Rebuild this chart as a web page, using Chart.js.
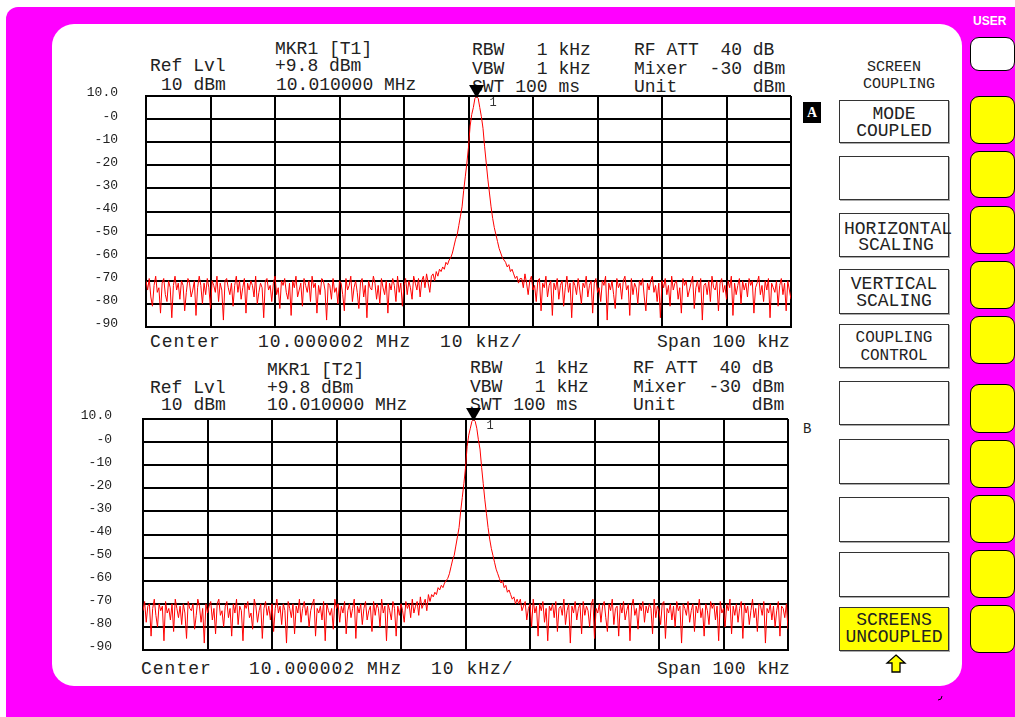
<!DOCTYPE html>
<html>
<head>
<meta charset="utf-8">
<script src="https://cdn.jsdelivr.net/npm/chart.js@4.4.0/dist/chart.umd.min.js"></script>
<style>
  html, body { margin: 0; padding: 0; width: 1015px; height: 717px; overflow: hidden; background: #fff; }
  .frame { position: absolute; left: 6px; top: 7px; right: -30px; bottom: -30px; background: #ff00ff; border-top-left-radius: 12px; }
  .panel { position: absolute; left: 52px; top: 24px; width: 910px; height: 662px; background: #fff; border-radius: 22px; }
  .t { position: absolute; white-space: pre; font: 18px/18px "Liberation Mono", monospace; color: #222; }
  .wide { letter-spacing: 1px; }
  .key { position: absolute; left: 970px; width: 45px; background: #ffff00; border: 1.5px solid #000; border-radius: 9px; box-sizing: border-box; }
  .soft { position: absolute; left: 839px; width: 110px; background: #fff; border: 1px solid #333; box-shadow: 1px 1px 0 #aaa; box-sizing: border-box; text-align: center; color: #222; font-family: "Liberation Mono", monospace; }
  .soft div { white-space: pre; }
  .scr { position: absolute; }
</style>
</head>
<body>
<div class="frame"></div>
<div class="panel"></div>

<!-- right hand hardkeys -->
<div style="position:absolute;left:973px;top:14px;font:bold 12px 'Liberation Sans',sans-serif;color:#fff;">USER</div>
<div class="key" style="top:37px;height:34px;background:#fff;"></div>
<div class="key" style="top:96px;height:48px;"></div>
<div class="key" style="top:151px;height:47px;"></div>
<div class="key" style="top:206px;height:48px;"></div>
<div class="key" style="top:261px;height:48px;"></div>
<div class="key" style="top:316px;height:48px;"></div>
<div class="key" style="top:384px;height:49px;"></div>
<div class="key" style="top:440px;height:48px;"></div>
<div class="key" style="top:495px;height:48px;"></div>
<div class="key" style="top:550px;height:48px;"></div>
<div class="key" style="top:605px;height:48px;"></div>

<!-- softkey menu -->
<div class="t" style="left:863px;top:59px;width:62px;font-size:15px;line-height:17px;text-align:center;">SCREEN
COUPLING</div>
<div class="soft" style="top:100px;height:43px;font-size:18px;line-height:17px;padding-top:5px;">MODE
COUPLED</div>
<div class="soft" style="top:156px;height:44px;"></div>
<div class="soft" style="top:213px;height:44px;font-size:18px;line-height:16px;padding-top:7px;padding-left:4px;">HORIZONTAL
SCALING</div>
<div class="soft" style="top:269px;height:45px;font-size:18px;line-height:17px;padding-top:6px;">VERTICAL
SCALING</div>
<div class="soft" style="top:324px;height:44px;font-size:16px;line-height:18px;padding-top:4px;">COUPLING
CONTROL</div>
<div class="soft" style="top:381px;height:44px;"></div>
<div class="soft" style="top:439px;height:45px;"></div>
<div class="soft" style="top:497px;height:45px;"></div>
<div class="soft" style="top:552px;height:45px;"></div>
<div class="soft" style="top:607px;height:44px;background:#ffff00;font-size:18px;line-height:17px;padding-top:4px;">SCREENS
UNCOUPLED</div>
<svg style="position:absolute;left:885px;top:654px;" width="22" height="20">
  <path d="M11 1 L20 9 L15 9 L15 18 L7 18 L7 9 L2 9 Z" fill="#ffff00" stroke="#000" stroke-width="1.3"/>
</svg>
<svg style="position:absolute;left:936px;top:694px;" width="8" height="8">
  <path d="M2 6 L5 5 L6 2" fill="none" stroke="#000" stroke-width="1"/>
</svg>

<!-- screen labels -->
<div style="position:absolute;left:803px;top:102px;width:18px;height:21px;background:#000;color:#fff;font:bold 14px/21px 'Liberation Serif',serif;text-align:center;">A</div>
<div class="t" style="left:803px;top:420px;font-size:14px;">B</div>

<!-- screen A header -->
<div class="t" style="left:275px;top:40px;">MKR1 [T1]</div>
<div class="t" style="left:150px;top:57px;">Ref Lvl</div>
<div class="t" style="left:275px;top:57px;">+9.8 dBm</div>
<div class="t" style="left:161px;top:76px;">10 dBm</div>
<div class="t" style="left:276px;top:76px;">10.010000 MHz</div>
<div class="t" style="left:472px;top:41px;line-height:18.5px;">RBW   1 kHz
VBW   1 kHz
SWT 100 ms</div>
<div class="t" style="left:634px;top:41px;line-height:18.5px;">RF ATT  40 dB
Mixer  -30 dBm
Unit       dBm</div>
<div class="t wide" style="left:150px;top:333px;">Center</div>
<div class="t wide" style="left:258px;top:333px;">10.000002 MHz</div>
<div class="t wide" style="left:440px;top:333px;">10 kHz/</div>
<div class="t" style="left:657px;top:333px;letter-spacing:0.3px;">Span 100 kHz</div>

<!-- screen B header -->
<div class="t" style="left:267px;top:361px;">MKR1 [T2]</div>
<div class="t" style="left:150px;top:379px;">Ref Lvl</div>
<div class="t" style="left:267px;top:379px;">+9.8 dBm</div>
<div class="t" style="left:161px;top:396px;">10 dBm</div>
<div class="t" style="left:267px;top:396px;">10.010000 MHz</div>
<div class="t" style="left:470px;top:359px;line-height:18.5px;">RBW   1 kHz
VBW   1 kHz
SWT 100 ms</div>
<div class="t" style="left:633px;top:359px;line-height:18.5px;">RF ATT  40 dB
Mixer  -30 dBm
Unit       dBm</div>
<div class="t wide" style="left:141px;top:660px;">Center</div>
<div class="t wide" style="left:249px;top:660px;">10.000002 MHz</div>
<div class="t wide" style="left:431px;top:660px;">10 kHz/</div>
<div class="t" style="left:657px;top:660px;letter-spacing:0.3px;">Span 100 kHz</div>

<div class="scr" style="left:84px;top:80px;width:716px;height:255px;"><canvas id="screenA"></canvas></div>
<div class="scr" style="left:80px;top:404px;width:715px;height:252px;"><canvas id="screenB"></canvas></div>

<script>
// --- sweep data (level in dBm, 401 sweep points over the 100 kHz span) ---
const freqStartKHz = -50;   // relative to center 10.000002 MHz
const freqStepKHz = 0.25;

const traceA = [
  -70,-74,-69,-77,-81,-72,-68,-75,-73,-84,-71,-69,-76,-79,-70,-73,-86,-72,-68,-74,
  -71,-78,-70,-72,-83,-75,-69,-71,-77,-74,-70,-85,-73,-68,-72,-80,-71,-76,-69,-73,
  -82,-70,-72,-75,-68,-79,-71,-74,-87,-70,-69,-73,-76,-71,-81,-72,-68,-75,-70,-78,
  -73,-69,-84,-71,-74,-70,-72,-77,-68,-80,-75,-71,-73,-86,-70,-69,-74,-72,-79,-71,
  -68,-76,-73,-82,-70,-72,-69,-75,-78,-71,-85,-70,-73,-68,-77,-74,-71,-81,-69,-72,
  -75,-70,-79,-68,-73,-71,-84,-72,-76,-69,-70,-74,-87,-71,-72,-78,-69,-75,-73,-80,
  -70,-71,-76,-83,-69,-74,-72,-68,-79,-73,-70,-75,-82,-71,-69,-77,-72,-86,-70,-73,
  -74,-68,-71,-78,-72,-80,-69,-73,-76,-70,-84,-71,-74,-69,-72,-79,-68,-75,-71,-81,
  -72,-69,-76,-70,-73,-78,-68,-71,-74,-69,-77,-70,-68,-73,-67,-71,-75,-68,
  // carrier skirt
  -67,-70,-66,-68,-65,-66,-64,-65,-62,-63,-61,-60,-58,-55,-52,-50,-46,-42,-38,-31,-25,-19,-12,-3,2,5,9,
  9.8,
  9,5,1,-4,-12,-19,-26,-32,-38,-43,-47,-50,-53,-56,-58,-60,-61,-62,-64,-63,-66,-65,-67,-69,-68,-71,-69,
  // noise floor
  -69,-73,-67,-71,-76,-70,-68,-74,-72,-79,-70,-69,-83,-71,-73,-68,-77,-72,-70,-85,
  -71,-74,-69,-78,-72,-70,-81,-73,-68,-75,-71,-86,-70,-72,-76,-69,-74,-80,-71,-73,
  -68,-77,-72,-70,-84,-71,-69,-75,-73,-79,-70,-72,-68,-87,-71,-74,-70,-76,-82,-69,
  -73,-71,-78,-70,-68,-74,-72,-85,-69,-76,-71,-73,-80,-70,-72,-69,-77,-83,-71,-74,
  -70,-68,-75,-72,-79,-71,-86,-70,-73,-69,-76,-72,-81,-68,-74,-71,-70,-78,-73,-84,
  -69,-72,-70,-77,-74,-71,-68,-82,-73,-70,-75,-69,-87,-72,-71,-76,-70,-79,-68,-73,
  -74,-70,-83,-71,-69,-75,-72,-78,-70,-73,-68,-85,-71,-76,-72,-69,-80,-70,-74,-71,
  -77,-69,-72,-70,-84,-73,-71,-68,-76,-72,-79,-70,-74,-69,-86,-71,-73,-75,-70,-81,
  -72,-69,-76,-71,-83,-70,-74,-78
];

const traceB = [
  -73,-69,-78,-71,-70,-84,-72,-68,-75,-80,-70,-73,-71,-86,-69,-74,-72,-77,-70,-82,
  -68,-72,-76,-71,-79,-70,-74,-85,-69,-72,-73,-70,-81,-75,-68,-71,-78,-72,-87,-70,
  -74,-71,-69,-77,-72,-83,-70,-68,-75,-73,-80,-71,-69,-76,-72,-84,-70,-74,-68,-79,
  -71,-73,-86,-70,-72,-69,-76,-74,-81,-68,-71,-78,-73,-70,-85,-72,-69,-75,-71,-77,
  -70,-82,-72,-68,-74,-71,-79,-70,-73,-87,-69,-72,-76,-70,-83,-71,-74,-68,-78,-72,
  -69,-75,-71,-80,-73,-70,-68,-84,-72,-74,-71,-77,-69,-86,-70,-73,-75,-72,-81,-68,
  -72,-70,-78,-71,-74,-69,-83,-73,-70,-76,-72,-68,-85,-71,-74,-70,-79,-72,-69,-77,
  -73,-71,-82,-69,-75,-70,-72,-80,-68,-74,-71,-86,-70,-73,-77,-69,-72,-84,-71,-75,
  -70,-73,-78,-69,-72,-70,-76,-68,-74,-71,-69,-75,-67,-72,-70,-68,-73,-66,
  // carrier skirt
  -69,-66,-67,-65,-66,-63,-64,-62,-63,-61,-60,-59,-57,-54,-51,-49,-45,-41,-37,-30,-24,-18,-11,-2,3,6,9,
  9.8,
  9,6,1,-3,-11,-18,-25,-31,-37,-42,-46,-49,-52,-55,-57,-59,-61,-60,-63,-62,-65,-64,-66,-68,-67,-70,-68,
  // noise floor
  -70,-68,-73,-71,-69,-77,-72,-70,-80,-68,-74,-71,-84,-70,-73,-69,-78,-72,-86,-71,
  -73,-70,-76,-69,-82,-72,-71,-75,-68,-79,-73,-70,-87,-71,-74,-69,-77,-72,-70,-83,
  -69,-75,-71,-73,-80,-70,-68,-85,-72,-74,-70,-78,-71,-69,-76,-82,-70,-73,-68,-79,
  -72,-71,-84,-70,-74,-69,-77,-73,-70,-86,-71,-68,-75,-72,-81,-70,-73,-69,-78,-71,
  -74,-70,-72,-83,-68,-76,-71,-73,-79,-70,-69,-85,-72,-74,-70,-77,-71,-80,-69,-73,
  -71,-87,-70,-72,-75,-69,-78,-73,-70,-82,-71,-74,-68,-76,-72,-84,-70,-73,-79,-69,
  -72,-70,-77,-71,-86,-69,-74,-72,-80,-70,-73,-68,-83,-71,-75,-70,-78,-72,-69,-85,
  -70,-74,-71,-79,-73,-68,-76,-72,-82,-70,-71,-75,-69,-87,-72,-74,-70,-77,-71,-80,
  -73,-69,-84,-71,-72,-76,-70,-81
];

// marker 1 on each screen
const markerKHz = [1.25, 1.25];
const markerLevel = [9.8, 9.8];

// level axis, top to bottom
const yTickLabels = ['10.0','-0','-10','-20','-30','-40','-50','-60','-70','-80','-90'];

// --- marker triangle + number ---
const markerPlugin = {
  id: 'marker',
  afterDatasetsDraw(chart, args, opts) {
    const ctx = chart.ctx;
    const px = chart.scales.x.getPixelForValue(opts.freq);
    const top = chart.chartArea.top;
    ctx.save();
    ctx.fillStyle = '#000';
    ctx.beginPath();
    ctx.moveTo(px - 7.5, top - 11);
    ctx.lineTo(px + 7.5, top - 11);
    ctx.lineTo(px, top + 2);
    ctx.closePath();
    ctx.fill();
    ctx.fillStyle = '#333';
    ctx.font = '12px "Liberation Mono", monospace';
    ctx.textBaseline = 'top';
    ctx.fillText('1', px + 13, top + 1);
    ctx.restore();
  }
};

function makeScreen(canvasId, trace, idx, pad, yWidth, labelPad) {
  let points = trace.map((v, i) => ({x: freqStartKHz + i * freqStepKHz, y: v}));

  new Chart(document.getElementById(canvasId), {
    type: 'line',
    data: {
      datasets: [{
        data: points,
        borderColor: '#ff0000',
        borderWidth: 1,
        pointRadius: 0,
        tension: 0
      }]
    },
    options: {
      responsive: true,
      maintainAspectRatio: false,
      animation: false,
      layout: { padding: pad },
      plugins: {
        legend: { display: false },
        tooltip: { enabled: false },
        marker: { freq: markerKHz[idx], level: markerLevel[idx] }
      },
      scales: {
        x: {
          type: 'linear', min: -50, max: 50,
          ticks: { display: false, stepSize: 10 },
          grid: { color: '#000', lineWidth: 2, drawTicks: false },
          border: { color: '#000', width: 2 },
          afterFit: s => { s.height = 0; }
        },
        y: {
          min: -90, max: 10,
          ticks: {
            stepSize: 10,
            color: '#222',
            padding: labelPad,
            labelOffset: -3,
            font: { family: 'Liberation Mono', size: 13 },
            callback: (v, i, ticks) => yTickLabels[ticks.length - 1 - i]
          },
          grid: { color: '#000', lineWidth: 2, drawTicks: false },
          border: { color: '#000', width: 2 },
          afterFit: s => {
            s.width = yWidth;
            // tick padding is meant for the horizontal gap only
            s.paddingTop = 0;
            s.paddingBottom = 0;
          }
        }
      }
    },
    plugins: [markerPlugin]
  });
}

makeScreen('screenA', traceA, 0, {top: 16, right: 9, bottom: 8, left: 0}, 62, 28);
makeScreen('screenB', traceB, 1, {top: 15, right: 7, bottom: 6, left: 0}, 63, 31);
</script>
</body>
</html>
